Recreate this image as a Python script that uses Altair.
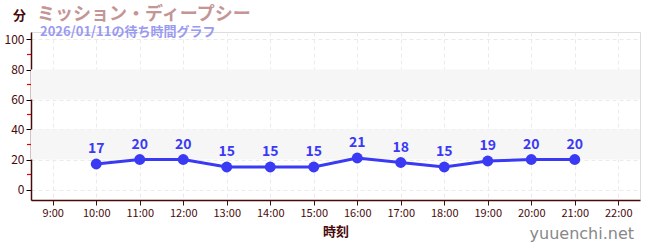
import altair as alt
import pandas as pd

hours = [10, 11, 12, 13, 14, 15, 16, 17, 18, 19, 20, 21]
waits = [17, 20, 20, 15, 15, 15, 21, 18, 15, 19, 20, 20]
band_lo = [20, 60]
band_hi = [40, 80]
minor_ticks = [10, 30, 50, 70, 90]
x_ticks = list(range(9, 23))
y_ticks = [0, 20, 40, 60, 80, 100]

title_text = "ミッション・ディープシー"
subtitle_text = "2026/01/11の待ち時間グラフ"
watermark = "yuuenchi.net"

df = pd.DataFrame({"hour": hours, "wait": waits})
bands = pd.DataFrame({"lo": band_lo, "hi": band_hi})
minor = pd.DataFrame({"v": minor_ticks})

AX = "#4a0a0a"
BLUE = "#3a3af5"
xs = alt.Scale(domain=[8.5, 22.5], nice=False, zero=False)
ys = alt.Scale(domain=[-7, 105], nice=False, zero=False)

x_axis = alt.Axis(
    values=x_ticks,
    labelExpr="datum.value + ':00'",
    title="時刻",
    titleColor=AX,
    titleFontSize=13,
    titleFontWeight="bold",
    titlePadding=7,
    labelColor=AX,
    labelFontSize=11,
    labelFont="Noto Sans CJK JP",
    titleFont="Noto Sans CJK JP",
    domainColor=AX,
    domainWidth=1.5,
    tickColor=AX,
    tickSize=5,
    grid=True,
    gridColor="#ebebeb",
    gridDash=[4, 3],
    labelPadding=2,
    labelOverlap=False,
)

y_axis = alt.Axis(
    values=y_ticks,
    title="分",
    titleAngle=0,
    titleX=-12,
    titleY=-17,
    titleAlign="center",
    titleBaseline="middle",
    titleColor=AX,
    titleFontSize=13,
    titleFontWeight="bold",
    titleFont="Noto Sans CJK JP",
    labelColor=AX,
    labelFontSize=12,
    labelFont="Noto Sans CJK JP",
    domainColor=AX,
    domainWidth=1.5,
    tickColor="#000000",
    tickSize=5,
    grid=True,
    gridColor="#ebebeb",
    gridDash=[4, 3],
    labelPadding=2,
    labelOverlap=False,
)

base = alt.Chart(df)

band_layer = alt.Chart(bands).mark_rect(color="#f6f6f6").encode(
    y=alt.Y("lo:Q", scale=ys, axis=y_axis),
    y2="hi:Q",
    x=alt.value(0),
    x2=alt.value(609),
)

line = base.mark_line(color=BLUE, strokeWidth=3).encode(
    x=alt.X("hour:Q", scale=xs, axis=x_axis),
    y=alt.Y("wait:Q", scale=ys, axis=y_axis),
)

points = base.mark_circle(color=BLUE, size=120, opacity=1).encode(
    x=alt.X("hour:Q", scale=xs, axis=x_axis),
    y=alt.Y("wait:Q", scale=ys, axis=y_axis),
)

labels = base.mark_text(
    color=BLUE, fontSize=14, fontWeight="bold", dy=-15, font="Noto Sans CJK JP"
).encode(
    x=alt.X("hour:Q", scale=xs, axis=x_axis),
    y=alt.Y("wait:Q", scale=ys, axis=y_axis),
    text="wait:Q",
)

minor_layer = alt.Chart(minor).mark_rule(color="#e00000", strokeWidth=1.2).encode(
    y=alt.Y("v:Q", scale=ys, axis=y_axis),
    x=alt.value(-4),
    x2=alt.value(0),
)

title_layer = alt.Chart(pd.DataFrame({"t": [title_text]})).mark_text(
    align="left", baseline="middle", fontSize=18, fontWeight="bold",
    color="#c49595", font="Noto Sans CJK JP",
).encode(x=alt.value(6), y=alt.value(-17), text="t:N")

subtitle_layer = alt.Chart(pd.DataFrame({"t": [subtitle_text]})).mark_text(
    align="left", baseline="middle", fontSize=13, fontWeight="bold",
    color="#9a9af0", font="Noto Sans CJK JP",
).encode(x=alt.value(9), y=alt.value(0), text="t:N")

wm_layer = alt.Chart(pd.DataFrame({"t": [watermark]})).mark_text(
    align="right", baseline="middle", fontSize=16,
    color="#888888", font="DejaVu Sans",
).encode(x=alt.value(603), y=alt.value(202), text="t:N")

chart = alt.layer(
    band_layer, line, points, labels, minor_layer, title_layer, subtitle_layer, wm_layer
).properties(
    width=609,
    height=168,
    autosize=alt.AutoSizeParams(type="none"),
    padding={"left": 31, "top": 32, "right": 10, "bottom": 50},
).configure_view(stroke=None).configure(background="white")

chart.save("out.html", embed_options={"renderer": "svg", "actions": False})
